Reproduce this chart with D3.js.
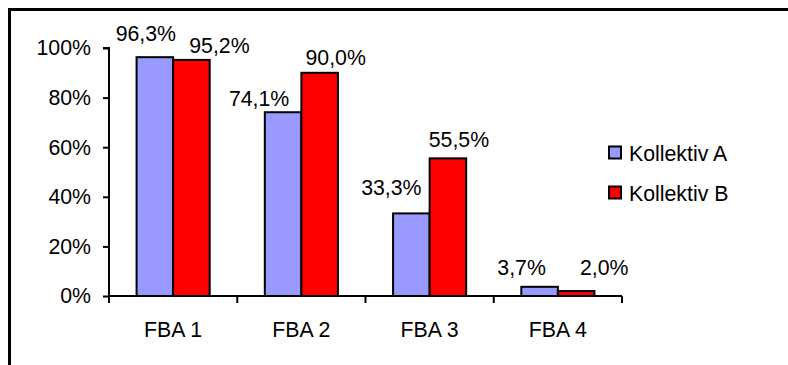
<!DOCTYPE html>
<html>
<head>
<meta charset="utf-8">
<script src="https://cdn.jsdelivr.net/npm/d3@7/dist/d3.min.js"></script>
<style>
  html, body { margin: 0; padding: 0; background: #fff; }
  svg { display: block; }
  text { font-family: "Liberation Sans", Arial, sans-serif; fill: #000; }
</style>
</head>
<body>
<svg id="chart" width="788" height="365"></svg>
<script>
// Share of each FBA item per group
const categories = ["FBA 1", "FBA 2", "FBA 3", "FBA 4"];
const seriesNames = ["Kollektiv A", "Kollektiv B"];
const kollektivA = [96.3, 74.1, 33.3, 3.7];
const kollektivB = [95.2, 90.0, 55.5, 2.0];
const yTicks = [0, 20, 40, 60, 80, 100];

// Hand-tuned nudges for the value labels (dx, dy relative to the bar top centre)
const labelNudgeA = [[-9, -16], [-24, -6], [-20, -18], [-18, -12]];
const labelNudgeB = [[28, -7], [16, -8], [11, -11], [28, -16]];

const colors = ["#9999FF", "#FF0000"];
const fontSize = 21.3;

const svg = d3.select("#chart");

// frame: top and left edges
svg.append("path")
  .attr("d", "M9.5,365 V9.5 H788")
  .attr("fill", "none")
  .attr("stroke", "#000")
  .attr("stroke-width", 3);

const plot = { left: 109, right: 622, top: 48, bottom: 296 };

const x = d3.scaleBand()
  .domain(categories)
  .range([plot.left, plot.right])
  .paddingInner(0)
  .paddingOuter(0);

const groupPad = 0.215; // share of each category left empty on either side
const x1 = d3.scaleBand()
  .domain(seriesNames)
  .range([x.bandwidth() * groupPad, x.bandwidth() * (1 - groupPad)]);

const y = d3.scaleLinear().domain([0, 100]).range([plot.bottom, plot.top]);

const fmt = v => d3.format(".1f")(v).replace(".", ",") + "%";

// bars
const series = [kollektivA, kollektivB];
const nudges = [labelNudgeA, labelNudgeB];
series.forEach((vals, si) => {
  const g = svg.append("g");
  g.selectAll("rect")
    .data(vals)
    .join("rect")
    .attr("x", (d, i) => x(categories[i]) + x1(seriesNames[si]))
    .attr("y", d => y(d))
    .attr("width", x1.bandwidth())
    .attr("height", d => y(0) - y(d))
    .attr("fill", colors[si])
    .attr("stroke", "#000")
    .attr("stroke-width", 2);
});

// value labels
series.forEach((vals, si) => {
  svg.append("g").selectAll("text")
    .data(vals)
    .join("text")
    .attr("x", (d, i) => x(categories[i]) + x1(seriesNames[si]) + x1.bandwidth() / 2 + nudges[si][i][0])
    .attr("y", (d, i) => y(d) + nudges[si][i][1])
    .attr("text-anchor", "middle")
    .attr("font-size", fontSize)
    .text(d => fmt(d));
});

// y axis
const yAxis = d3.axisLeft(y)
  .tickValues(yTicks)
  .tickFormat(d => d + "%")
  .tickSize(6)
  .tickPadding(12);
const gy = svg.append("g")
  .attr("transform", `translate(${plot.left},0)`)
  .call(yAxis);
gy.select(".domain").attr("d", `M-6,${plot.top}H0V${plot.bottom + 7}`).attr("stroke-width", 2);
gy.selectAll(".tick line").attr("stroke-width", 2);
gy.selectAll(".tick text")
  .attr("font-size", fontSize)
  .attr("font-family", "Liberation Sans, Arial, sans-serif")
  .attr("fill", "#000");

// x axis: ticks sit on the category boundaries
const gx = svg.append("g")
  .attr("transform", `translate(0,${plot.bottom})`);
gx.append("line")
  .attr("x1", plot.left).attr("x2", plot.right)
  .attr("stroke", "#000").attr("stroke-width", 2);
const boundaries = categories.map(c => x(c)).concat([x(categories[categories.length - 1]) + x.bandwidth()]);
gx.selectAll(".bt")
  .data(boundaries)
  .join("line")
  .attr("x1", d => d).attr("x2", d => d)
  .attr("y1", 0).attr("y2", 7)
  .attr("stroke", "#000").attr("stroke-width", 2);
gx.selectAll(".cat")
  .data(categories)
  .join("text")
  .attr("x", d => x(d) + x.bandwidth() / 2)
  .attr("y", 41)
  .attr("text-anchor", "middle")
  .attr("font-size", fontSize)
  .text(d => d);

// legend
const legend = svg.append("g").attr("transform", "translate(608,0)");
const legendY = [153, 193];
seriesNames.forEach((name, i) => {
  legend.append("rect")
    .attr("x", 1).attr("y", legendY[i] - 6.5)
    .attr("width", 12).attr("height", 12)
    .attr("fill", colors[i])
    .attr("stroke", "#000")
    .attr("stroke-width", 2);
  legend.append("text")
    .attr("x", 21).attr("y", legendY[i] + 7.5)
    .attr("font-size", fontSize)
    .text(name);
});
</script>
</body>
</html>
